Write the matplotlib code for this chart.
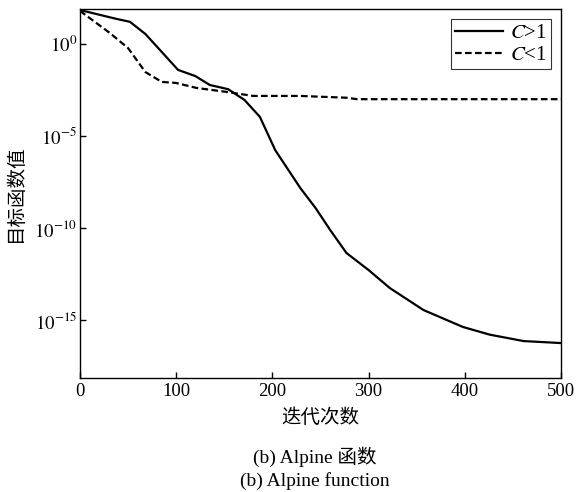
import matplotlib
matplotlib.use("Agg")
import matplotlib.pyplot as plt

plt.rcParams['font.family'] = ['Liberation Serif', 'Noto Sans CJK SC']
plt.rcParams['mathtext.fontset'] = 'stix'

# C>1 曲线
iter_gt = [0, 38, 52, 68, 88, 102, 120, 135, 154, 171, 187, 203, 229,
           245, 260, 277, 300, 322, 357, 398, 426, 461, 500]
val_gt = [7e1, 2.3e1, 1.6e1, 3.5, 2.5e-1, 3.9e-2, 1.8e-2, 5.9e-3, 3.5e-3,
          9.1e-4, 1.1e-4, 1.7e-6, 1.5e-8, 1.2e-9, 7.9e-11, 4.4e-12, 5.2e-13,
          5.5e-14, 3.5e-15, 4.2e-16, 1.6e-16, 7.2e-17, 5.6e-17]

# C<1 曲线
iter_lt = [0, 31, 50, 68, 85, 100, 121, 152, 180, 229, 277, 288, 500]
val_lt = [6.3e1, 4.0, 6.0e-1, 3.0e-2, 8.7e-3, 7.6e-3, 4.1e-3, 2.5e-3,
          1.5e-3, 1.5e-3, 1.2e-3, 1.0e-3, 1.0e-3]

x_ticks = [0, 100, 200, 300, 400, 500]
y_ticks = [1e0, 1e-5, 1e-10, 1e-15]
y_tick_labels = [r'$10^{0}$', r'$10^{-5}$', r'$10^{-10}$', r'$10^{-15}$']

fig = plt.figure(figsize=(5.79, 4.92), dpi=100)
ax = fig.add_axes([0.138, 0.2317, 0.831, 0.75])

ax.plot(iter_gt, val_gt, color='black', lw=1.6, label='$C$>1')
ax.plot(iter_lt, val_lt, color='black', lw=1.6, ls=(0, (3, 1.5)), label='$C$<1')

ax.set_yscale('log')
ax.set_xlim(0, 500)
ax.set_ylim(10 ** -18.15, 10 ** 1.9)
ax.set_xticks(x_ticks)
ax.set_yticks(y_ticks)
ax.set_yticklabels(y_tick_labels)
ax.minorticks_off()
ax.tick_params(direction='in', length=4, width=1, labelsize=13.5, colors='black')
ax.tick_params(axis='y', pad=2)
for s in ax.spines.values():
    s.set_linewidth(1.0)

ax.set_xlabel('迭代次数', fontsize=14, labelpad=6)
ax.set_ylabel('目标函数值', fontsize=14, labelpad=7)

leg = ax.legend(loc='upper right', fontsize=15, frameon=True, fancybox=False,
                edgecolor='black', handlelength=2.3, handletextpad=0.3,
                borderpad=0.2, labelspacing=0.1, borderaxespad=0.5)
leg.get_frame().set_linewidth(0.8)

fig.text(0.543, 0.071, '(b) Alpine 函数', ha='center', va='center', fontsize=14)
fig.text(0.543, 0.022, '(b) Alpine function', ha='center', va='center', fontsize=14)

fig.savefig('out.png', dpi=100)
